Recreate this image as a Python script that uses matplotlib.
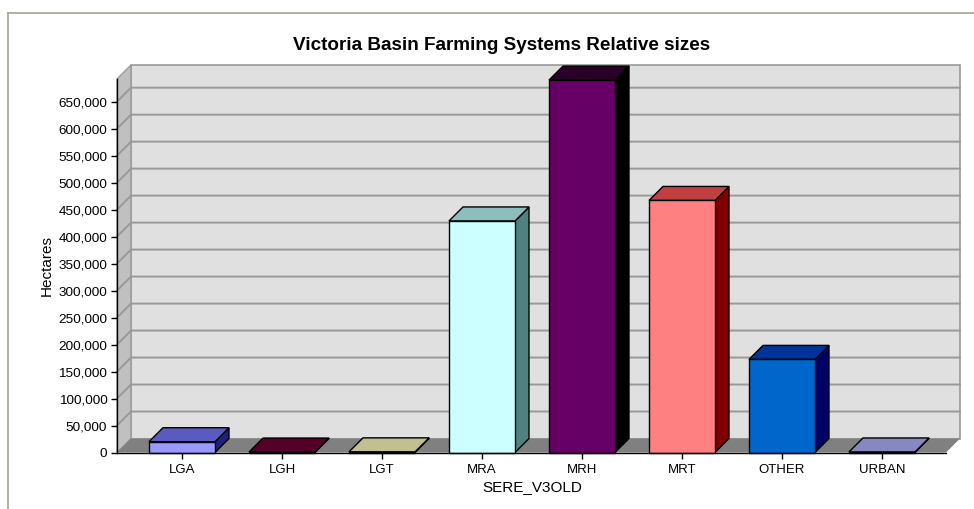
import matplotlib
matplotlib.use("Agg")
import matplotlib.pyplot as plt
from matplotlib.patches import Polygon
from matplotlib.ticker import FuncFormatter, MultipleLocator
from matplotlib.lines import Line2D

plt.rcParams["font.family"] = ["Liberation Sans", "DejaVu Sans"]

# ---- data -------------------------------------------------------------
categories = ["LGA", "LGH", "LGT", "MRA", "MRH", "MRT", "OTHER", "URBAN"]
hectares = [20000, 800, 1200, 429000, 690000, 467000, 172500, 1000]

front_colors = ["#9999FF", "#993366", "#FFFFCC", "#CCFFFF",
                "#660066", "#FF8080", "#0066CC", "#CCCCFF"]
top_colors = ["#5A5AC0", "#550028", "#C0C090", "#8CBEBE",
              "#280028", "#C04040", "#003399", "#8888C0"]
side_colors = ["#202080", "#330018", "#808060", "#508080",
               "#000000", "#800000", "#000066", "#5A5A8C"]

y_max = 692000
y_step = 50000

# ---- figure / axes ----------------------------------------------------
W, H = 974, 509
fig = plt.figure(figsize=(W / 100, H / 100), dpi=100)
fig.patch.set_facecolor("white")

ax_left, ax_bottom, ax_w, ax_h = 117, 452.5, 829, 373.5  # pixels
ax = fig.add_axes([ax_left / W, (H - ax_bottom) / H, ax_w / W, ax_h / H])
x_min, x_max = -0.65, 7.64
ax.set_xlim(x_min, x_max)
ax.set_ylim(0, y_max)
ax.patch.set_visible(False)

# oblique depth of the 3-D box, in data units (14 px right and up)
depth_px = 14
dx = depth_px * (x_max - x_min) / ax_w
dy = depth_px * y_max / ax_h

# back wall, side wall and floor
ax.add_patch(Polygon([(x_min + dx, dy), (x_max + dx, dy),
                      (x_max + dx, y_max + dy), (x_min + dx, y_max + dy)],
                     closed=True, fc="#E0E0E0", ec="#999999", lw=1.2,
                     clip_on=False, zorder=1))
ax.add_patch(Polygon([(x_min, 0), (x_min + dx, dy),
                      (x_min + dx, y_max + dy), (x_min, y_max)],
                     closed=True, fc="#C0C0C0", ec="#999999", lw=1.0,
                     clip_on=False, zorder=1))
ax.add_patch(Polygon([(x_min, 0), (x_max, 0), (x_max + dx, dy), (x_min + dx, dy)],
                     closed=True, fc="#808080", ec="none",
                     clip_on=False, zorder=2))

# gridlines running along the side wall and the back wall
v = y_step
while v <= y_max:
    ax.plot([x_min, x_min + dx, x_max + dx], [v, v + dy, v + dy],
            color="#999999", lw=1.4, clip_on=False, zorder=1.5,
            solid_joinstyle="miter")
    v += y_step

# 3-D bars
bar_w = 0.66
for i, (val, fc, tc, sc) in enumerate(zip(hectares, front_colors, top_colors, side_colors)):
    x0, x1 = i - bar_w / 2, i + bar_w / 2
    ax.add_patch(Polygon([(x1, 0), (x1 + dx, dy), (x1 + dx, val + dy), (x1, val)],
                         closed=True, fc=sc, ec="black", lw=1.0,
                         clip_on=False, zorder=3))
    ax.add_patch(Polygon([(x0, val), (x1, val), (x1 + dx, val + dy), (x0 + dx, val + dy)],
                         closed=True, fc=tc, ec="black", lw=1.0,
                         clip_on=False, zorder=3))
    ax.add_patch(Polygon([(x0, 0), (x1, 0), (x1, val), (x0, val)],
                         closed=True, fc=fc, ec="black", lw=1.0,
                         clip_on=False, zorder=3))

# axes lines and ticks
for side in ("top", "right"):
    ax.spines[side].set_visible(False)
for side in ("left", "bottom"):
    ax.spines[side].set_color("black")
    ax.spines[side].set_linewidth(1.0)
    ax.spines[side].set_zorder(5)

ax.set_xticks(range(len(categories)))
ax.set_xticklabels(categories)
ax.yaxis.set_major_locator(MultipleLocator(y_step))
ax.yaxis.set_major_formatter(FuncFormatter(lambda val, pos: f"{int(val):,}"))
ax.tick_params(axis="both", direction="out", length=4, width=1.0, color="black")
ax.tick_params(axis="y", labelsize=9.7, pad=3)
ax.tick_params(axis="x", labelsize=9.5, pad=4)

# texts
fig.text(501.7 / W, 1 - 45 / H, "Victoria Basin Farming Systems Relative sizes",
         ha="center", va="center", fontsize=13.6, fontweight="bold")
fig.text(46.5 / W, 1 - 266 / H, "Hectares", rotation=90,
         ha="center", va="center", fontsize=11)
fig.text(532 / W, 1 - 487.5 / H, "SERE_V3OLD",
         ha="center", va="center", fontsize=11)

# outer frame of the chart area
frame_color = "#A5A595"
fig.add_artist(Line2D([7.5 / W, 7.5 / W], [0, 1 - 12.5 / H],
                      color=frame_color, lw=1.2))
fig.add_artist(Line2D([7.5 / W, 1], [1 - 12.5 / H, 1 - 12.5 / H],
                      color=frame_color, lw=1.2))

fig.savefig("out.png", dpi=100)
